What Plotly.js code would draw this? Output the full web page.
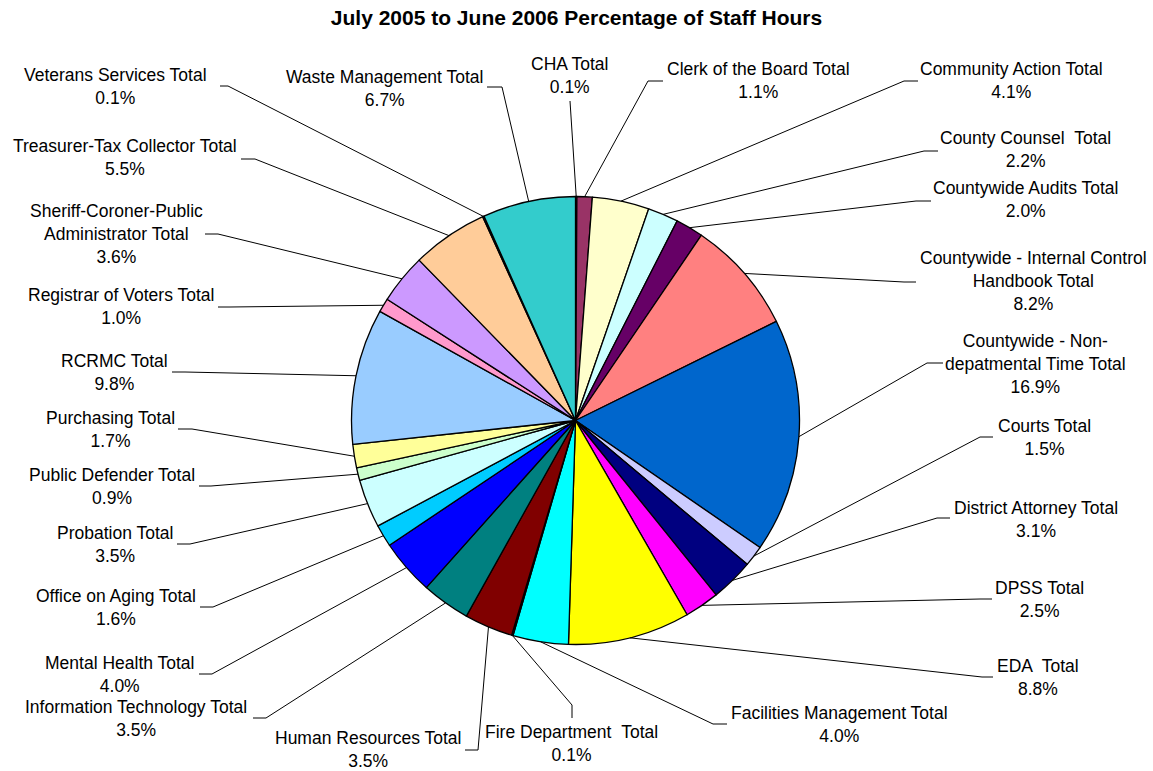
<!DOCTYPE html>
<html>
<head>
<meta charset="utf-8">
<script src="https://cdn.plot.ly/plotly-3.0.1.min.js"></script>
<style>html,body{margin:0;padding:0;background:#fff;}#chart{width:1153px;height:771px;}</style>
</head>
<body>
<div id="chart"></div>
<script>
// ---- DATA ----
const categories = [
  "CHA Total", "Clerk of the Board Total", "Community Action Total", "County Counsel  Total",
  "Countywide Audits Total", "Countywide - Internal Control Handbook Total",
  "Countywide - Non-depatmental Time Total", "Courts Total", "District Attorney Total",
  "DPSS Total", "EDA  Total", "Facilities Management Total", "Fire Department  Total",
  "Human Resources Total", "Information Technology Total", "Mental Health Total",
  "Office on Aging Total", "Probation Total", "Public Defender Total", "Purchasing Total",
  "RCRMC Total", "Registrar of Voters Total", "Sheriff-Coroner-Public Administrator Total",
  "Treasurer-Tax Collector Total", "Veterans Services Total", "Waste Management Total"
];
const values = [0.1, 1.1, 4.1, 2.2, 2.0, 8.2, 16.9, 1.5, 3.1, 2.5, 8.8, 4.0, 0.1,
                3.5, 3.5, 4.0, 1.6, 3.5, 0.9, 1.7, 9.8, 1.0, 3.6, 5.5, 0.1, 6.7];
const titleText = "July 2005 to June 2006 Percentage of Staff Hours";

// ---- STYLE / LAYOUT ----
const colors = ["#9999FF", "#993366", "#FFFFCC", "#CCFFFF", "#660066", "#FF8080", "#0066CC",
  "#CCCCFF", "#000080", "#FF00FF", "#FFFF00", "#00FFFF", "#800080", "#800000", "#008080",
  "#0000FF", "#00CCFF", "#CCFFFF", "#CCFFCC", "#FFFF99", "#99CCFF", "#FF99CC", "#CC99FF",
  "#FFCC99", "#3366FF", "#33CCCC"];
// where a label's name wraps (after this many characters)
const wrapAfter = {5: 29, 6: 17, 22: 23};

const W = 1153, H = 771;
const CX = 575.5, CY = 420.5, R = 224;
// label centre, leader attach point, leader elbow point (pixels)
const labelCenter = [[570,76],[758,81],[1012,81],[1025,150],[1026,200],[1033,281],[1035,364],
  [1044,437],[1036,519],[1039,599],[1038,677],[839,724],[571,743],[368,749],[136,718],
  [120,674],[116,607],[115,544],[112,486],[110,429],[114,372],[121,307],[116,234],[125,158],
  [115,86],[384,88]];
const attachPt = [[570,101],[663,81],[918,81],[938,151],[931,201],[916,282],[943,363],
  [993,437],[950,518],[992,599],[993,677],[727,724],[572,718],[465,750],[253,718],[199,674],
  [200,607],[177,544],[199,486],[178,429],[172,372],[218,307],[205,234],[241,159],[220,86],[487,87]];
const elbowPt = [[570,101],[648,81],[904,81],[924,151],[916,201],[904,282],[927,363],
  [980,437],[937,518],[980,599],[982,677],[713,724],[572,705],[478,750],[266,718],[212,674],
  [213,607],[190,544],[211,486],[192,429],[185,372],[230,307],[218,234],[255,159],[228,86],[502,87]];

const px = x => x / W;
const py = y => 1 - y / H;

const total = values.reduce((a, b) => a + b, 0);
const annotations = [];
const shapes = [];
let cum = 0;
values.forEach((v, i) => {
  const mid = (cum + v / 2) / total * 2 * Math.PI;
  cum += v;
  const ex = CX + R * Math.sin(mid), ey = CY - R * Math.cos(mid);
  let name = categories[i].replace(/  /g, " \u00A0");
  if (wrapAfter[i]) {
    const k = wrapAfter[i];
    name = name.slice(0, k).trim() + "<br>" + name.slice(k).trim();
  }
  const pct = (v / total * 100).toFixed(1) + "%";
  annotations.push({
    xref: "paper", yref: "paper", x: px(labelCenter[i][0]), y: py(labelCenter[i][1]),
    xanchor: "center", yanchor: "middle", showarrow: false, align: "center",
    text: name + "<br>" + pct,
    font: {family: "Liberation Sans, Arial, sans-serif", size: 17.5, color: "#000"}
  });
  const ln = {color: "#000", width: 1};
  shapes.push({type: "line", xref: "paper", yref: "paper", x0: px(ex), y0: py(ey),
    x1: px(elbowPt[i][0]), y1: py(elbowPt[i][1]), line: ln, layer: "above"});
  shapes.push({type: "line", xref: "paper", yref: "paper", x0: px(elbowPt[i][0]), y0: py(elbowPt[i][1]),
    x1: px(attachPt[i][0]), y1: py(attachPt[i][1]), line: ln, layer: "above"});
});

const trace = {
  type: "pie",
  labels: categories,
  values: values,
  sort: false,
  direction: "clockwise",
  rotation: 0,
  textinfo: "none",
  hoverinfo: "skip",
  marker: {colors: colors, line: {color: "#000", width: 1.3}},
  domain: {x: [px(CX - R), px(CX + R)], y: [py(CY + R), py(CY - R)]},
  showlegend: false
};

const layout = {
  width: W, height: H,
  margin: {l: 0, r: 0, t: 0, b: 0, autoexpand: false},
  paper_bgcolor: "#fff",
  showlegend: false,
  title: {text: "<b>" + titleText + "</b>", x: 0.5, xanchor: "center", y: py(18), yanchor: "middle",
    font: {family: "Liberation Sans, Arial, sans-serif", size: 21, color: "#000"}},
  annotations: annotations,
  shapes: shapes
};

Plotly.newPlot("chart", [trace], layout, {staticPlot: true});
</script>
</body>
</html>
